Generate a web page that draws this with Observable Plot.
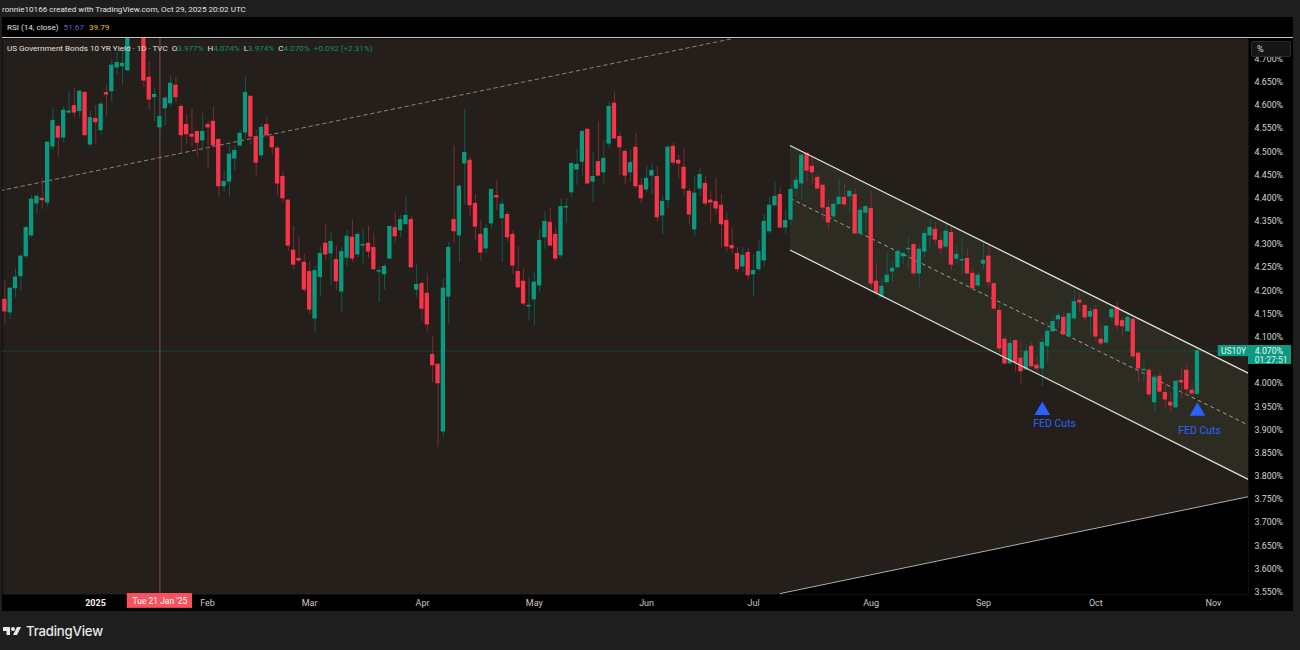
<!DOCTYPE html>
<html><head><meta charset="utf-8">
<script src="https://cdn.jsdelivr.net/npm/d3@7"></script>
<script src="https://cdn.jsdelivr.net/npm/@observablehq/plot@0.6"></script>
<style>
html,body{margin:0;background:#1e1e1e;overflow:hidden}
body,svg{font-family:Roboto,"Liberation Sans",sans-serif}
#wrap{position:relative;width:1300px;height:650px}
#head{height:17px;line-height:19px;padding-left:2px;font-size:8.1px;color:#e4e4e4;white-space:nowrap}
#panel{margin-left:2px;width:1291px;background:#000}
#rsi{height:20px;line-height:20px;padding-left:5px;font-size:8.1px;color:#e0e0e0;border-bottom:1.5px solid #c8c8c8;box-sizing:content-box}
#rsi span{margin-left:5px}
#legend{position:absolute;left:7px;top:43px;font-size:8.1px;line-height:11px;color:#e0e0e0;white-space:nowrap}
#legend b{font-weight:400;color:#0b8f78}
#legend i{font-style:normal;margin-left:4px}
#unit{position:absolute;left:1251px;top:41px;width:40px;height:16px;box-sizing:border-box;background:#161616;border:1px solid #2a2a2a;border-radius:2px;color:#d8d8d8;font-size:9px;line-height:14px;padding-left:5px}
#foot{position:absolute;left:3px;top:623px;display:flex;align-items:center;color:#e8e8e8;font-family:Inter,sans-serif;font-size:13.2px;font-weight:500;letter-spacing:-.2px}
#foot svg{margin-right:5px}
</style></head><body>
<div id="wrap">
<div id="head">ronnie10166 created with TradingView.com, Oct 29, 2025 20:02 UTC</div>
<div id="panel">
<div id="rsi">RSI (14, close)<span style="color:#7e57c2">51.67</span><span style="color:#e8c21f">39.79</span></div>
<div id="chart"></div>
</div>
<div id="legend">US Government Bonds 10 YR Yield · 1D · TVC<i>O</i><b>3.977%</b><i>H</i><b>4.074%</b><i>L</i><b>3.974%</b><i>C</i><b>4.070%</b><i></i><b>+0.092 (+2.31%)</b></div>
<div id="unit">%</div>
<div id="foot"><svg width="18" height="14" viewBox="0 0 36 28" fill="#e8e8e8"><path d="M14 6H0v8h7v8h7V6Z"/><circle cx="20" cy="10" r="4"/><path d="M28 6h8l-8 16h-8l8-16Z"/></svg>TradingView</div>
</div>
<script>
const open = [
4.181,4.153,4.205,4.231,4.274,4.319,4.388,4.399,4.390,4.511,
4.554,4.530,4.584,4.599,4.587,4.627,4.515,4.571,4.546,4.627,
4.630,4.681,4.684,4.675,4.790,4.770,4.775,4.660,4.617,4.552,
4.593,4.604,4.643,4.597,4.558,4.537,4.543,4.524,4.558,4.565,
4.526,4.425,4.435,4.485,4.513,4.541,4.619,4.532,4.492,4.558,
4.532,4.507,4.446,4.395,4.287,4.269,4.261,4.241,4.140,4.229,
4.302,4.280,4.267,4.198,4.271,4.315,4.278,4.297,4.302,4.293,
4.241,4.235,4.269,4.336,4.330,4.343,4.353,4.202,4.215,4.194,
4.062,4.041,3.896,4.187,4.353,4.319,4.474,4.481,4.388,4.321,
4.291,4.345,4.405,4.356,4.364,4.321,4.241,4.220,4.166,4.181,
4.211,4.315,4.347,4.321,4.276,4.379,4.412,4.461,4.478,4.548,
4.435,4.478,4.455,4.517,4.604,4.532,4.500,4.455,4.509,4.427,
4.418,4.448,4.446,4.362,4.395,4.511,4.481,4.466,4.414,4.332,
4.420,4.431,4.395,4.392,4.384,4.351,4.297,4.280,4.252,4.282,
4.235,4.246,4.265,4.328,4.384,4.407,4.336,4.353,4.420,4.431,
4.496,4.468,4.444,4.427,4.379,4.360,4.386,4.401,4.403,4.407,
4.323,4.368,4.377,4.220,4.187,4.218,4.241,4.250,4.274,4.289,
4.299,4.237,4.284,4.319,4.332,4.308,4.295,4.325,4.269,4.265,
4.269,4.237,4.211,4.258,4.274,4.215,4.157,4.095,4.043,4.092,
4.054,4.030,4.080,4.039,4.032,4.080,4.112,4.138,4.142,4.101,
4.140,4.179,4.168,4.144,4.159,4.095,4.088,4.142,4.164,4.135,
4.112,4.138,4.065,4.028,4.028,3.959,4.015,3.980,3.959,3.948,
4.006,4.028,3.985,3.977];
const high = [
4.222,4.207,4.246,4.278,4.340,4.405,4.407,4.442,4.522,4.595,
4.558,4.597,4.630,4.638,4.632,4.630,4.587,4.599,4.606,4.643,
4.699,4.714,4.720,4.780,4.810,4.815,4.790,4.694,4.638,4.580,
4.619,4.664,4.660,4.602,4.580,4.593,4.543,4.582,4.565,4.597,
4.528,4.459,4.513,4.513,4.546,4.660,4.619,4.546,4.560,4.575,
4.535,4.511,4.457,4.395,4.338,4.315,4.278,4.263,4.252,4.295,
4.345,4.328,4.297,4.293,4.330,4.353,4.325,4.332,4.340,4.323,
4.252,4.256,4.340,4.371,4.362,4.401,4.360,4.258,4.220,4.237,
4.101,4.041,4.226,4.304,4.513,4.431,4.591,4.489,4.407,4.351,
4.343,4.418,4.438,4.399,4.371,4.330,4.295,4.248,4.228,4.241,
4.332,4.371,4.379,4.336,4.399,4.399,4.476,4.505,4.546,4.548,
4.498,4.565,4.524,4.608,4.627,4.541,4.505,4.503,4.539,4.442,
4.470,4.474,4.468,4.403,4.513,4.519,4.492,4.507,4.420,4.448,
4.463,4.446,4.414,4.444,4.407,4.368,4.336,4.293,4.293,4.293,
4.278,4.308,4.364,4.401,4.435,4.422,4.375,4.427,4.446,4.494,
4.496,4.489,4.450,4.427,4.397,4.395,4.440,4.429,4.420,4.420,
4.381,4.384,4.414,4.258,4.226,4.282,4.263,4.289,4.282,4.317,
4.302,4.299,4.334,4.353,4.347,4.325,4.347,4.340,4.295,4.312,
4.289,4.252,4.241,4.306,4.299,4.215,4.168,4.101,4.099,4.095,
4.088,4.084,4.088,4.062,4.097,4.131,4.144,4.153,4.153,4.153,
4.200,4.196,4.168,4.164,4.168,4.125,4.125,4.166,4.176,4.142,
4.153,4.140,4.065,4.052,4.034,4.019,4.028,4.000,3.980,4.008,
4.032,4.045,4.004,4.074];
const low = [
4.127,4.138,4.185,4.200,4.269,4.315,4.364,4.375,4.381,4.503,
4.487,4.519,4.580,4.573,4.573,4.535,4.509,4.517,4.535,4.575,
4.606,4.666,4.643,4.673,4.760,4.755,4.638,4.589,4.565,4.532,
4.556,4.597,4.606,4.498,4.515,4.511,4.487,4.500,4.463,4.511,
4.401,4.412,4.401,4.459,4.509,4.526,4.515,4.446,4.487,4.530,
4.492,4.405,4.390,4.284,4.246,4.261,4.196,4.148,4.110,4.187,
4.267,4.211,4.200,4.153,4.252,4.261,4.271,4.258,4.269,4.243,
4.175,4.202,4.267,4.302,4.315,4.343,4.250,4.185,4.133,4.112,
4.002,3.862,3.885,4.127,4.302,4.261,4.386,4.360,4.308,4.263,
4.280,4.334,4.373,4.261,4.306,4.235,4.205,4.166,4.135,4.125,
4.196,4.289,4.295,4.263,4.271,4.345,4.403,4.427,4.446,4.431,
4.390,4.446,4.431,4.507,4.528,4.448,4.429,4.435,4.420,4.388,
4.412,4.407,4.349,4.321,4.377,4.470,4.440,4.405,4.343,4.317,
4.403,4.381,4.345,4.364,4.293,4.284,4.278,4.239,4.239,4.222,
4.187,4.241,4.250,4.321,4.381,4.334,4.323,4.340,4.403,4.395,
4.435,4.429,4.418,4.351,4.330,4.353,4.386,4.379,4.368,4.321,
4.317,4.325,4.205,4.194,4.187,4.218,4.218,4.250,4.256,4.246,
4.229,4.207,4.271,4.291,4.299,4.278,4.289,4.243,4.256,4.235,
4.235,4.202,4.207,4.246,4.205,4.157,4.065,4.039,4.041,4.024,
3.998,4.028,4.034,4.024,3.994,4.045,4.110,4.118,4.103,4.099,
4.135,4.155,4.135,4.105,4.090,4.082,4.084,4.133,4.114,4.099,
4.110,4.052,4.000,4.002,3.970,3.937,3.980,3.948,3.937,3.948,
3.967,3.974,3.972,3.974];
const close = [
4.155,4.205,4.229,4.274,4.336,4.397,4.403,4.395,4.520,4.567,
4.530,4.589,4.587,4.584,4.630,4.535,4.573,4.563,4.602,4.623,
4.686,4.692,4.690,4.762,4.775,4.800,4.653,4.612,4.623,4.575,
4.615,4.647,4.617,4.535,4.537,4.532,4.519,4.543,4.552,4.513,
4.425,4.435,4.494,4.502,4.539,4.627,4.532,4.476,4.552,4.535,
4.509,4.431,4.399,4.297,4.256,4.265,4.202,4.159,4.243,4.280,
4.278,4.306,4.220,4.284,4.317,4.269,4.321,4.299,4.284,4.246,
4.243,4.252,4.338,4.317,4.353,4.362,4.250,4.213,4.161,4.127,
4.039,4.000,4.205,4.293,4.328,4.425,4.498,4.384,4.338,4.282,
4.334,4.418,4.401,4.386,4.315,4.254,4.207,4.172,4.168,4.218,
4.308,4.349,4.297,4.269,4.381,4.381,4.474,4.472,4.543,4.431,
4.446,4.448,4.485,4.597,4.528,4.509,4.448,4.476,4.425,4.399,
4.442,4.459,4.358,4.392,4.509,4.476,4.474,4.420,4.364,4.410,
4.450,4.388,4.390,4.377,4.343,4.295,4.291,4.246,4.276,4.233,
4.243,4.284,4.349,4.384,4.403,4.336,4.351,4.418,4.438,4.492,
4.459,4.455,4.420,4.379,4.347,4.386,4.401,4.386,4.414,4.323,
4.373,4.381,4.215,4.194,4.209,4.233,4.248,4.284,4.280,4.291,
4.237,4.289,4.323,4.336,4.310,4.291,4.328,4.256,4.278,4.267,
4.237,4.205,4.233,4.265,4.218,4.161,4.075,4.043,4.086,4.045,
4.026,4.069,4.037,4.032,4.088,4.112,4.133,4.146,4.105,4.150,
4.176,4.174,4.142,4.155,4.101,4.086,4.123,4.159,4.125,4.123,
4.142,4.058,4.032,4.030,3.976,4.013,3.982,3.965,3.952,4.004,
4.002,3.987,3.978,4.070];

// x is the trading-session number; y is the yield in percent
const monthSessions = [37.9,57,78.1,99,120,140,162,183,204,226];
const monthNames = ["Feb","Mar","Apr","May","Jun","Jul","Aug","Sep","Oct","Nov"];
const yearSession = [16.95];
const yTicks = [3.55,3.6,3.65,3.7,3.75,3.8,3.85,3.9,3.95,4,4.1,4.15,4.2,4.25,4.3,4.35,4.4,4.45,4.5,4.55,4.6,4.65,4.7];
const xDomain = [-0.436,232.55];
const yDomain = [3.5449,4.7442];
const lastPrice = 4.07;
const cursorSession = 29;

const dashedTrend = [{x:-0.81,y:4.416},{x:136.1,y:4.744}];
const channel = [{x:146.9,top:4.513,mid:4.399,bot:4.2875},{x:232.55,top:4.022,mid:3.910,bot:3.793}];
const support = [{x:145,y:3.547},{x:232.55,y:3.756}];
const fedMarks = [{x:194.0,y:3.942,tx:196.3,ty:3.914},{x:223.0,y:3.94,tx:223.4,ty:3.899}];

const candles = d3.range(open.length).map(i=>({i,o:open[i],h:high[i],l:low[i],c:close[i]}));
const up = candles.filter(d=>d.c>=d.o), down = candles.filter(d=>d.c<d.o);
const UP="#0a9a80", DOWN="#f9344a", UPW="#0e5c4e", DOWNW="#7e2a34";
const bodyHalf=0.4;
const body=(data,fill)=>Plot.rect(data,{x1:d=>d.i-bodyHalf,x2:d=>d.i+bodyHalf,y1:d=>Math.min(d.o,d.c)-0.0006,y2:d=>Math.max(d.o,d.c)+0.0006,fill,clip:true});
const wick=(data,stroke)=>Plot.ruleX(data,{x:"i",y1:"l",y2:"h",stroke,strokeWidth:1,clip:true});

const chart = Plot.plot({
  width:1291,height:573,marginTop:0,marginBottom:17,marginLeft:0,marginRight:45,
  style:{background:"#000",fontFamily:"Roboto, 'Liberation Sans', sans-serif",overflow:"hidden"},
  x:{domain:xDomain,axis:null},
  y:{domain:yDomain,axis:null},
  marks:[
    Plot.frame({fill:"#241f1a",stroke:null}),
    Plot.areaY(support,{x:"x",y1:yDomain[0],y2:"y",fill:"#000",clip:true}),
    Plot.areaY(channel,{x:"x",y1:"bot",y2:"top",fill:"#2d2c22",clip:true}),
    Plot.line(support,{x:"x",y:"y",stroke:"#c8c8c0",strokeWidth:0.9,clip:true}),
    Plot.line(dashedTrend,{x:"x",y:"y",stroke:"#8a857a",strokeWidth:1,strokeDasharray:"3.5,3.5",clip:true}),
    Plot.line(channel,{x:"x",y:"mid",stroke:"#b0b0a4",strokeWidth:0.9,strokeDasharray:"3,4",clip:true}),
    Plot.ruleY([lastPrice],{stroke:"#0f5c4c",strokeWidth:1,strokeDasharray:"1,1",clip:true}),
    Plot.ruleX([cursorSession],{stroke:"#9c5a62",strokeWidth:0.8,clip:true}),
    wick(up,UPW),wick(down,DOWNW),
    body(up,UP),body(down,DOWN),
    Plot.line(channel,{x:"x",y:"top",stroke:"#e4e4dc",strokeWidth:1.25,clip:true}),
    Plot.line(channel,{x:"x",y:"bot",stroke:"#e4e4dc",strokeWidth:1.25,clip:true}),
    Plot.dot(fedMarks,{x:"x",y:"y",symbol:"triangle",r:5.8,fill:"#2962ff",stroke:null}),
    Plot.text(fedMarks,{x:"tx",y:"ty",text:()=>"FED Cuts",fill:"#2962ff",fontSize:10.5}),
    Plot.axisY({anchor:"right",ticks:yTicks,tickSize:0,tickPadding:6,tickFormat:d=>d.toFixed(3)+"%",fill:"#d6d6d6",fontSize:8.8,label:null}),
    Plot.axisX({anchor:"bottom",ticks:monthSessions,tickSize:0,tickPadding:5,tickFormat:s=>monthNames[monthSessions.indexOf(s)],fill:"#c8c8c8",fontSize:9,label:null}),
    Plot.axisX({anchor:"bottom",ticks:yearSession,tickSize:0,tickPadding:5,tickFormat:()=>"2025",fill:"#f0f0f0",fontSize:9,fontWeight:700,label:null}),
    // price and date badges
    Plot.rect([{a:226.9,b:232.55,p:4.058,q:4.082}],{x1:"a",x2:"b",y1:"p",y2:"q",fill:UP}),
    Plot.rect([{a:232.55,b:240.6,p:4.041,q:4.082}],{x1:"a",x2:"b",y1:"p",y2:"q",fill:UP}),
    Plot.text(["US10Y"],{x:229.75,y:4.070,text:d=>d,fill:"#e8f5f2",fontSize:8.5}),
    Plot.text(["4.070%"],{x:233.7,y:4.0695,text:d=>d,fill:"#f2fbf9",fontSize:8.8,textAnchor:"start"}),
    Plot.text(["01:27:51"],{x:233.7,y:4.051,text:d=>d,fill:"#e2f3ef",fontSize:8.5,textAnchor:"start"}),
    Plot.rect([{a:22.9,b:35.1,p:3.515,q:3.547}],{x1:"a",x2:"b",y1:"p",y2:"q",fill:"#f7525f"}),
    Plot.text(["Tue 21 Jan '25"],{x:cursorSession,y:3.531,text:d=>d,fill:"#fff",fontSize:8.5})
  ]
});
document.getElementById("chart").appendChild(chart);
</script>
</body></html>
